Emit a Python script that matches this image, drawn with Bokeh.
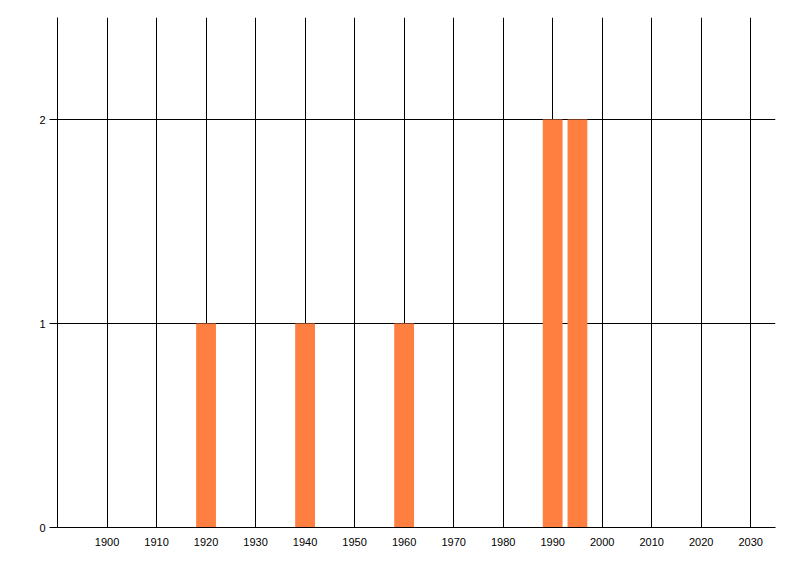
from bokeh.plotting import figure
from bokeh.models import Range1d, FixedTicker
from bokeh.embed import file_html
from bokeh.resources import INLINE

years = [1920, 1940, 1960, 1990, 1995]
counts = [1, 1, 1, 2, 2]
x_ticks = [1900, 1910, 1920, 1930, 1940, 1950, 1960, 1970, 1980, 1990, 2000, 2010, 2020, 2030]
y_ticks = [0, 1, 2]

p = figure(width=792, height=568, output_backend="svg", toolbar_location=None,
           x_range=Range1d(1890, 2035), y_range=Range1d(0, 2.5),
           min_border_left=57, min_border_right=17, min_border_top=17, min_border_bottom=41)

p.vbar(x=years, top=counts, width=4, color="#FF7F40", line_color=None)

p.outline_line_color = None
p.xaxis.ticker = FixedTicker(ticks=x_ticks)
p.yaxis.ticker = FixedTicker(ticks=y_ticks)
p.xgrid.ticker = FixedTicker(ticks=x_ticks)
p.ygrid.ticker = FixedTicker(ticks=[1, 2])
for g in (p.xgrid, p.ygrid):
    g.grid_line_color = "black"
    g.grid_line_width = 1
    g.grid_line_alpha = 1.0

for ax in (p.xaxis, p.yaxis):
    ax.axis_line_color = "black"
    ax.axis_line_width = 1
    ax.minor_tick_line_color = None
    ax.major_label_text_font = "Liberation Sans"
    ax.major_label_text_font_size = "11px"
    ax.major_label_text_color = "black"

p.xaxis.major_tick_line_color = None
p.xaxis.major_label_standoff = 4
p.yaxis.major_tick_in = 0
p.yaxis.major_tick_out = 8
p.yaxis.major_tick_line_color = "black"
p.yaxis.major_label_standoff = 4

open("out.html", "w").write(file_html(p, INLINE))
